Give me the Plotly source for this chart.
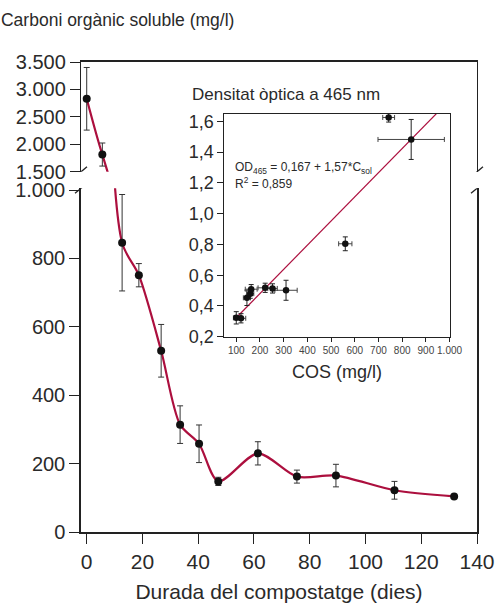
import numpy as np
import plotly.graph_objects as go

# ---- main series: soluble organic carbon vs composting duration ----
days = [0, 5.6, 12.7, 18.7, 26.7, 33.5, 40.3, 47.2, 61.4, 75.4, 89.4, 110.4, 131.8]
cos_vals = [2830, 1815, 846, 751, 530, 314, 258, 148, 230, 162, 165, 122, 104]
cos_err = [570, 210, 141, 34, 77, 55, 55, 12, 34, 19, 33, 26, 0]

# ---- inset: optical density vs COS ----
inset_cos = [100, 120, 145, 159, 163, 222, 253, 310, 560, 743, 838]
inset_od = [0.323, 0.320, 0.453, 0.480, 0.509, 0.518, 0.514, 0.502, 0.804, 1.625, 1.482]
inset_cos_err = [12, 20, 15, 15, 25, 30, 20, 47, 28, 25, 140]
inset_od_err = [0.04, 0.03, 0.05, 0.03, 0.03, 0.03, 0.03, 0.065, 0.045, 0.03, 0.13]
fit_intercept = 0.167
fit_slope = 1.57  # per g/l
fit_cos_range = [105, 1000]

x_ticks = [0, 20, 40, 60, 80, 100, 120, 140]
y_low_ticks = [0, 200, 400, 600, 800, 1000]
y_up_ticks = [1500, 2000, 2500, 3000, 3500]
inset_x_ticks = [100, 200, 300, 400, 500, 600, 700, 800, 900, 1000]
inset_y_ticks = [0.2, 0.4, 0.6, 0.8, 1.0, 1.2, 1.4, 1.6]

RED = "#ac0f3e"
DOT = "#111111"
AX = "#222222"
TXT = "#2a2a2a"
FONT = "Liberation Sans, Arial, sans-serif"

d = np.array(days)
c = np.array(cos_vals)
e = np.array(cos_err)
up = c > 1005
lo = ~up

fig = go.Figure()

# curve on upper (broken) segment
fig.add_trace(go.Scatter(x=days, y=cos_vals, mode="lines", xaxis="x2", yaxis="y2",
                         line=dict(color=RED, width=2.2, shape="spline", smoothing=0.8),
                         hoverinfo="skip", showlegend=False))
# curve on lower segment
fig.add_trace(go.Scatter(x=days, y=cos_vals, mode="lines", xaxis="x", yaxis="y",
                         line=dict(color=RED, width=2.2, shape="spline", smoothing=0.8),
                         hoverinfo="skip", showlegend=False))
# markers upper
fig.add_trace(go.Scatter(x=d[up], y=c[up], mode="markers", xaxis="x2", yaxis="y2",
                         marker=dict(color=DOT, size=8),
                         error_y=dict(type="data", array=e[up], color="#333", thickness=1, width=3),
                         showlegend=False))
# markers lower
fig.add_trace(go.Scatter(x=d[lo], y=c[lo], mode="markers", xaxis="x", yaxis="y",
                         marker=dict(color=DOT, size=8),
                         error_y=dict(type="data", array=e[lo], color="#333", thickness=1, width=3),
                         showlegend=False))

# inset fit line
fit_y = [fit_intercept + fit_slope * v / 1000 for v in fit_cos_range]
fig.add_trace(go.Scatter(x=fit_cos_range, y=fit_y, mode="lines", xaxis="x3", yaxis="y3",
                         line=dict(color=RED, width=1.2), hoverinfo="skip", showlegend=False))
# inset points
fig.add_trace(go.Scatter(x=inset_cos, y=inset_od, mode="markers", xaxis="x3", yaxis="y3",
                         marker=dict(color=DOT, size=6.5),
                         error_x=dict(type="data", array=inset_cos_err, color="#444", thickness=1, width=2.5),
                         error_y=dict(type="data", array=inset_od_err, color="#222", thickness=1, width=2.5),
                         showlegend=False))

L, R, T, B = 81, 22.3, 62.3, 74.3
W, H = 499, 606
ph = H - T - B
pw = W - L - R
low_top = (531.7 - 188.5) / ph
up_bot = (531.7 - 172.0) / ph

main_tick_font = dict(family=FONT, size=20, color=TXT)

fig.update_layout(
    width=W, height=H,
    margin=dict(l=L, r=R, t=T, b=B, autoexpand=False),
    paper_bgcolor="white", plot_bgcolor="rgba(0,0,0,0)",
    separators=",.",
    font=dict(family=FONT, color=TXT),
    title=dict(text="Carboni orgànic soluble (mg/l)", xref="container", yref="container",
               x=0.002, xanchor="left", y=1 - 20 / H, yanchor="middle",
               font=dict(family=FONT, size=17.5, color=TXT)),
    xaxis=dict(domain=[0, 1], anchor="y", range=[-2.05, 140], tickvals=x_ticks,
               ticks="outside", ticklen=10, tickwidth=1.2, tickcolor=AX,
               showline=True, linecolor=AX, linewidth=1.5, showgrid=False, zeroline=False,
               tickfont=dict(family=FONT, size=21, color=TXT),
               title=dict(text="Durada del compostatge (dies)", standoff=12,
                          font=dict(family=FONT, size=21, color=TXT))),
    xaxis2=dict(domain=[0, 1], anchor="y2", overlaying="x", side="top", range=[-2.05, 140],
                showline=True, linecolor=AX, linewidth=1.5, ticks="", showticklabels=False,
                showgrid=False, zeroline=False),
    yaxis=dict(domain=[0, low_top], anchor="x", range=[0, 1005], tickvals=y_low_ticks,
               separatethousands=True, ticks="outside", ticklen=10, tickwidth=1.2, tickcolor=AX,
               showline=True, mirror=True, linecolor=AX, linewidth=1.5, showgrid=False,
               zeroline=False, tickfont=main_tick_font),
    yaxis2=dict(domain=[up_bot, 1], anchor="x2", range=[1500, 3500], tickvals=y_up_ticks,
                separatethousands=True, ticks="outside", ticklen=10, tickwidth=1.2, tickcolor=AX,
                showline=True, mirror=True, linecolor=AX, linewidth=1.3, showgrid=False,
                zeroline=False, tickfont=main_tick_font),
    xaxis3=dict(domain=[(224.3 - L) / pw, (449.3 - L) / pw], anchor="y3", range=[50, 1000],
                tickvals=inset_x_ticks, separatethousands=True, ticks="outside", ticklen=4,
                tickwidth=1, tickcolor=AX, showline=True, mirror=True, linecolor=AX, linewidth=1.3,
                showgrid=False, zeroline=False, tickangle=0,
                tickfont=dict(family=FONT, size=10, color="#444444"),
                title=dict(text="COS (mg/l)", standoff=10, font=dict(family=FONT, size=18, color=TXT))),
    yaxis3=dict(domain=[(531.7 - 336.7) / ph, (531.7 - 114.3) / ph], anchor="x3",
                range=[0.2, 1.647], tickvals=inset_y_ticks, tickformat=".1f",
                ticks="outside", ticklen=6, tickwidth=1, tickcolor=AX,
                showline=True, mirror=True, linecolor=AX, linewidth=1.3, showgrid=False,
                zeroline=False, tickfont=dict(family=FONT, size=18, color=TXT)),
)

# axis-break marks (pixel-sized, anchored to the axis ends)
brk = dict(color=AX, width=1.3)
for xa in (0, 1):
    fig.add_shape(type="line", xref="x domain", yref="y2", xsizemode="pixel", ysizemode="pixel",
                  xanchor=xa, yanchor=1500, x0=-6, x1=6, y0=-5, y1=5, line=brk)
    fig.add_shape(type="line", xref="x domain", yref="y", xsizemode="pixel", ysizemode="pixel",
                  xanchor=xa, yanchor=1005, x0=-6, x1=6, y0=-5, y1=5, line=brk)

fig.add_annotation(text="Densitat òptica a 465 nm", xref="paper", yref="paper",
                   x=(190 - L) / pw, y=(531.7 - 95) / ph, xanchor="left", yanchor="middle",
                   showarrow=False, font=dict(family=FONT, size=17, color=TXT))
fig.add_annotation(text="OD<sub>465</sub> = 0,167 + 1,57*C<sub>sol</sub>", xref="paper", yref="paper",
                   x=(233 - L) / pw, y=(531.7 - 168) / ph, xanchor="left", yanchor="middle",
                   showarrow=False, font=dict(family=FONT, size=12, color=TXT))
fig.add_annotation(text="R<sup>2</sup> = 0,859", xref="paper", yref="paper",
                   x=(233 - L) / pw, y=(531.7 - 183) / ph, xanchor="left", yanchor="middle",
                   showarrow=False, font=dict(family=FONT, size=12, color=TXT))

fig.write_html("out.html")
